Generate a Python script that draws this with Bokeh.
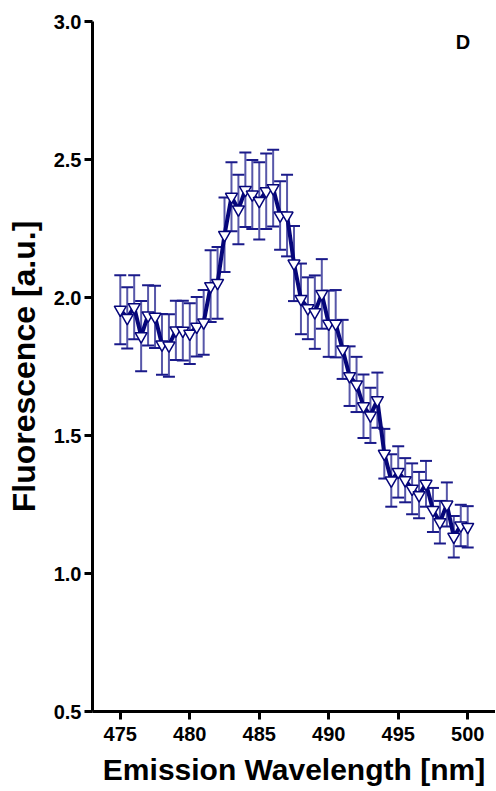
from bokeh.plotting import figure
from bokeh.models import ColumnDataSource, Whisker, TeeHead, FixedTicker, Label, Range1d
from bokeh.embed import file_html
from bokeh.resources import INLINE

wavelength = [475.0, 475.5, 476.0, 476.5, 477.0, 477.5, 478.0, 478.5, 479.0, 479.5,
              480.0, 480.5, 481.0, 481.5, 482.0, 482.5, 483.0, 483.5, 484.0, 484.5,
              485.0, 485.5, 486.0, 486.5, 487.0, 487.5, 488.0, 488.5, 489.0, 489.5,
              490.0, 490.5, 491.0, 491.5, 492.0, 492.5, 493.0, 493.5, 494.0, 494.5,
              495.0, 495.5, 496.0, 496.5, 497.0, 497.5, 498.0, 498.5, 499.0, 499.5,
              500.0]
fluorescence = [1.956, 1.926, 1.965, 1.860, 1.935, 1.930, 1.830, 1.826, 1.881, 1.880,
                1.869, 1.894, 1.910, 2.041, 2.053, 2.227, 2.365, 2.319, 2.390, 2.373,
                2.350, 2.385, 2.396, 2.297, 2.297, 2.123, 1.995, 1.961, 1.947, 2.013,
                1.905, 1.905, 1.812, 1.715, 1.685, 1.606, 1.573, 1.628, 1.434, 1.337,
                1.368, 1.338, 1.307, 1.284, 1.325, 1.230, 1.186, 1.250, 1.133, 1.174,
                1.169]
sem = [0.125, 0.111, 0.116, 0.127, 0.109, 0.113, 0.110, 0.113, 0.107, 0.108,
       0.110, 0.108, 0.117, 0.130, 0.130, 0.135, 0.125, 0.126, 0.135, 0.125,
       0.140, 0.137, 0.139, 0.124, 0.148, 0.136, 0.128, 0.112, 0.133, 0.126,
       0.120, 0.122, 0.107, 0.108, 0.100, 0.115, 0.100, 0.100, 0.090, 0.095,
       0.093, 0.080, 0.092, 0.084, 0.083, 0.080, 0.077, 0.080, 0.075, 0.075,
       0.075]
x_ticks = [475, 480, 485, 490, 495, 500]
y_ticks = [0.5, 1.0, 1.5, 2.0, 2.5, 3.0]
panel_letter = "D"

upper = [m + e for m, e in zip(fluorescence, sem)]
lower = [m - e for m, e in zip(fluorescence, sem)]
src = ColumnDataSource(data=dict(x=wavelength, y=fluorescence, upper=upper, lower=lower))

FONT = "Liberation Sans"
NAVY = "#06067a"

p = figure(width=495, height=790, output_backend="svg", toolbar_location=None,
           x_range=Range1d(473, 502), y_range=Range1d(0.5, 3.0),
           min_border_left=92, min_border_right=0, min_border_top=21, min_border_bottom=79)
p.outline_line_color = None
p.xgrid.visible = False
p.ygrid.visible = False
p.background_fill_color = "white"

for ax in (p.xaxis[0], p.yaxis[0]):
    ax.axis_line_width = 3
    ax.axis_line_color = "black"
    ax.major_tick_line_width = 3
    ax.major_tick_line_color = "black"
    ax.major_tick_out = 8
    ax.major_tick_in = 0
    ax.minor_tick_line_color = None
    ax.major_label_text_font = FONT
    ax.major_label_text_font_style = "bold"
    ax.major_label_text_font_size = "20px"
    ax.major_label_text_color = "black"
    ax.axis_label_text_font = FONT
    ax.axis_label_text_font_style = "bold"
    ax.axis_label_text_color = "black"

p.xaxis.ticker = FixedTicker(ticks=x_ticks)
p.yaxis.ticker = FixedTicker(ticks=y_ticks)
p.yaxis.major_label_overrides = {v: f"{v:.1f}" for v in y_ticks}
p.xaxis.major_label_standoff = 7
p.yaxis.major_label_standoff = 3
p.xaxis.axis_label = "Emission Wavelength [nm]"
p.yaxis.axis_label = "Fluorescence [a.u.]"
p.xaxis.axis_label_text_font_size = "30px"
p.yaxis.axis_label_text_font_size = "32px"
p.xaxis.axis_label_standoff = 9
p.yaxis.axis_label_standoff = 9

w = Whisker(base="x", upper="upper", lower="lower", source=src, dimension="height",
            line_color="#3a3a9a", line_width=2, line_alpha=0.85,
            upper_head=TeeHead(size=12, line_color="#1a1a8a", line_width=2),
            lower_head=TeeHead(size=12, line_color="#1a1a8a", line_width=2))
p.add_layout(w)

p.line("x", "y", source=src, line_color=NAVY, line_width=4)
p.scatter("x", "y", source=src, marker="inverted_triangle", size=12,
          fill_color="white", line_color=NAVY, line_width=1.5)

lab = Label(x=499.66, y=2.924, text=panel_letter, text_font=FONT, text_font_style="bold",
            text_font_size="20px", text_align="center", text_baseline="middle",
            text_color="black")
p.add_layout(lab)

open("out.html", "w").write(file_html(p, INLINE))
